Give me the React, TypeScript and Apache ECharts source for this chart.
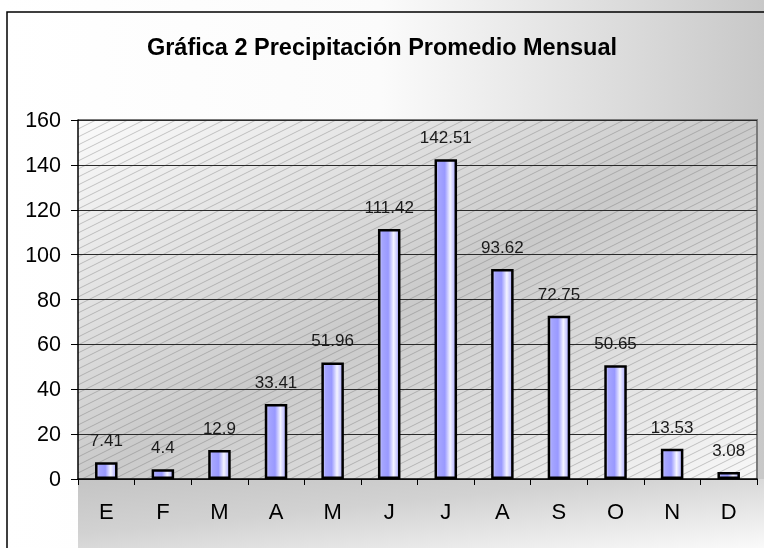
import React, { useEffect, useRef } from "react";
import * as echarts from "echarts";

const titleText = "Gráfica 2 Precipitación Promedio Mensual";
const categories = ["E", "F", "M", "A", "M", "J", "J", "A", "S", "O", "N", "D"];
const precipitation = [7.41, 4.4, 12.9, 33.41, 51.96, 111.42, 142.51, 93.62, 72.75, 50.65, 13.53, 3.08];
const yMin = 0;
const yMax = 160;
const yStep = 20;

const FONT = 'Arial, "Liberation Sans", sans-serif';
const W = 764;
const H = 548;
const G = { left: 78, top: 120, right: 7, bottom: 69 };

function makeHatch(): HTMLCanvasElement {
  const c = document.createElement("canvas");
  c.width = 16;
  c.height = 8;
  const ctx = c.getContext("2d")!;
  ctx.strokeStyle = "rgba(100,100,100,0.34)";
  ctx.lineWidth = 1;
  for (let k = -1; k <= 1; k++) {
    ctx.beginPath();
    ctx.moveTo(-8, 12 + 8 * k);
    ctx.lineTo(24, -4 + 8 * k);
    ctx.stroke();
  }
  return c;
}

export default function App() {
  const ref = useRef<HTMLDivElement>(null);
  useEffect(() => {
    if (!ref.current) return;
    const chart = echarts.init(ref.current, undefined, { renderer: "svg" });
    const pw = W - G.left - G.right;
    const ph = H - G.top - G.bottom;
    const hatch = makeHatch();
    chart.setOption({
      animation: false,
      title: {
        text: titleText,
        left: "center",
        top: 30,
        z: 5,
        textStyle: { fontFamily: FONT, fontSize: 23.5, fontWeight: "bold", color: "#000" },
      },
      graphic: [
        {
          type: "rect",
          z: 0,
          shape: { x: 0, y: 0, width: W, height: H },
          style: {
            fill: new echarts.graphic.LinearGradient(0, 0, 1, 0, [
              { offset: 0, color: "#ffffff" },
              { offset: 0.5, color: "#fbfbfb" },
              { offset: 0.83, color: "#dadada" },
              { offset: 1, color: "#c8c8c8" },
            ]),
          },
          silent: true,
        },
        {
          type: "rect",
          z: 0,
          shape: { x: G.left, y: G.top, width: pw, height: ph },
          style: {
            fill: new echarts.graphic.LinearGradient(0, 0, 1, 1, [
              { offset: 0, color: "#fbfbfb" },
              { offset: 0.5, color: "#cacaca" },
              { offset: 1, color: "#f8f8f8" },
            ]),
          },
          silent: true,
        },
        {
          type: "rect",
          z: 0,
          shape: { x: G.left, y: G.top, width: pw, height: ph },
          style: { fill: { image: hatch, repeat: "repeat" } as any },
          silent: true,
        },
        {
          type: "rect",
          z: 0,
          shape: { x: G.left, y: H - G.bottom, width: W - G.left, height: G.bottom },
          style: {
            fill: new echarts.graphic.LinearGradient(0, 0, 1, 1, [
              { offset: 0, color: "#c4c4c4" },
              { offset: 0.4, color: "#d2d2d2" },
              { offset: 1, color: "#fafafa" },
            ]),
          },
          silent: true,
        },
        {
          type: "polyline",
          z: 0,
          shape: { points: [[G.left, G.top], [W - G.right, G.top], [W - G.right, H - G.bottom]] },
          style: { stroke: "#7a7a7a", lineWidth: 2, fill: "none" },
          silent: true,
        },
        {
          type: "polyline",
          z: 0,
          shape: { points: [[7, H], [7, 12], [W, 12]] },
          style: { stroke: "#000", lineWidth: 1.5, fill: "none" },
          silent: true,
        },
      ],
      grid: { left: G.left, top: G.top, right: G.right, bottom: G.bottom, containLabel: false },
      xAxis: {
        type: "category",
        data: categories,
        z: 1,
        axisLine: { show: true, lineStyle: { color: "#000", width: 1.5 } },
        axisTick: { show: true, length: 6, lineStyle: { color: "#000", width: 1 } },
        axisLabel: { fontFamily: FONT, fontSize: 22, color: "#000", margin: 21 },
      },
      yAxis: {
        type: "value",
        min: yMin,
        max: yMax,
        interval: yStep,
        z: 1,
        axisLine: { show: true, lineStyle: { color: "#000", width: 1.5 } },
        axisTick: { show: true, length: 7, lineStyle: { color: "#000", width: 1 } },
        axisLabel: { fontFamily: FONT, fontSize: 21.5, color: "#000", margin: 17 },
        splitLine: { show: true, lineStyle: { color: "#2a2a2a", width: 1 } },
      },
      series: [
        {
          type: "bar",
          data: precipitation,
          barWidth: 22.5,
          z: 2,
          itemStyle: {
            borderColor: "#000",
            borderWidth: 2.5,
            color: new echarts.graphic.LinearGradient(0, 0, 1, 0, [
              { offset: 0, color: "#dcdcff" },
              { offset: 0.14, color: "#a6a6ff" },
              { offset: 0.45, color: "#9999ff" },
              { offset: 0.72, color: "#f4f4ff" },
              { offset: 1, color: "#a8a8ff" },
            ]),
          },
          label: {
            show: true,
            position: "top",
            distance: 13,
            fontFamily: FONT,
            fontSize: 17,
            color: "#1a1a1a",
          },
        },
      ],
    });
    return () => chart.dispose();
  }, []);
  return <div ref={ref} style={{ position: "fixed", left: 0, top: 0, width: W, height: H }} />;
}
